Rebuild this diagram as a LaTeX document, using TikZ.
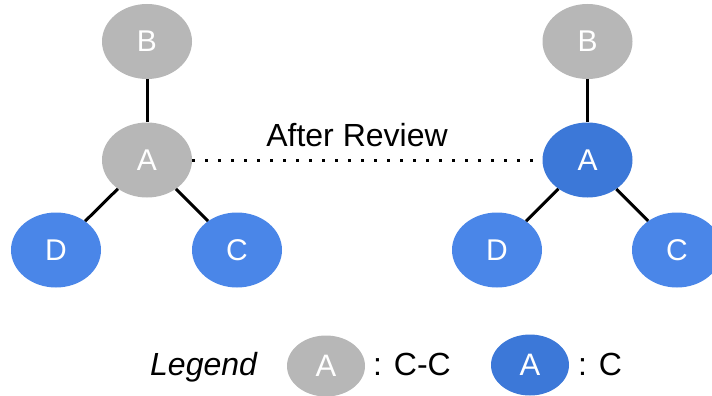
\documentclass[tikz,border=0pt]{standalone}
\usepackage{fontspec}
\setmainfont{Liberation Sans}
\usetikzlibrary{shapes.geometric}
\definecolor{gr}{HTML}{B7B7B7}
\definecolor{lb}{HTML}{4A86E8}
\definecolor{db}{HTML}{3C78D8}
\tikzset{
  nd/.style={ellipse, minimum width=90pt, minimum height=75pt, inner sep=0pt, text=white, font=\fontsize{30}{32}\selectfont},
  grayn/.style={nd, fill=gr},
  bluen/.style={nd, fill=lb},
  darkn/.style={nd, fill=db},
  lg/.style={ellipse, minimum width=78pt, minimum height=61pt, inner sep=0pt, text=white, font=\fontsize{31}{32}\selectfont},
  link/.style={line width=3pt, black},
  txt/.style={font=\fontsize{32}{34}\selectfont, inner sep=0pt, anchor=base west}
}
\begin{document}
\begin{tikzpicture}[x=1pt,y=-1pt]
\useasboundingbox (0,0) rectangle (712,396);
\clip (0,0) rectangle (712,396);
% left graph
\node[grayn] (lB) at (147,41.5) {B};
\node[grayn] (lA) at (147,160) {A};
\node[bluen] (lD) at (56,250) {D};
\node[bluen] (lC) at (237,250) {C};
% right graph
\node[grayn] (rB) at (587.5,41.5) {B};
\node[darkn] (rA) at (587.5,160) {A};
\node[bluen] (rD) at (497,250) {D};
\node[bluen] (rC) at (677,250) {C};
% links
\draw[link] (lB) -- (lA);
\draw[link] (lA) -- (lD);
\draw[link] (lA) -- (lC);
\draw[link] (rB) -- (rA);
\draw[link] (rA) -- (rD);
\draw[link] (rA) -- (rC);
\draw[line width=3pt, dash pattern=on 3pt off 10pt] (lA.east) -- (rA.west);
\node[font=\fontsize{32}{34}\selectfont, inner sep=0pt, anchor=base] (rev) at (357,146) {After Review};
% legend
\node[txt, font=\fontsize{32}{34}\selectfont\itshape] (leg) at (150,375) {Legend};
\node[lg, fill=gr] (lg1) at (326,366) {A};
\node[txt] (t1) at (373,375) {: C-C};
\node[lg, fill=db] (lg2) at (530,365) {A};
\node[txt] (t2) at (578,375) {: C};
\end{tikzpicture}
\end{document}
